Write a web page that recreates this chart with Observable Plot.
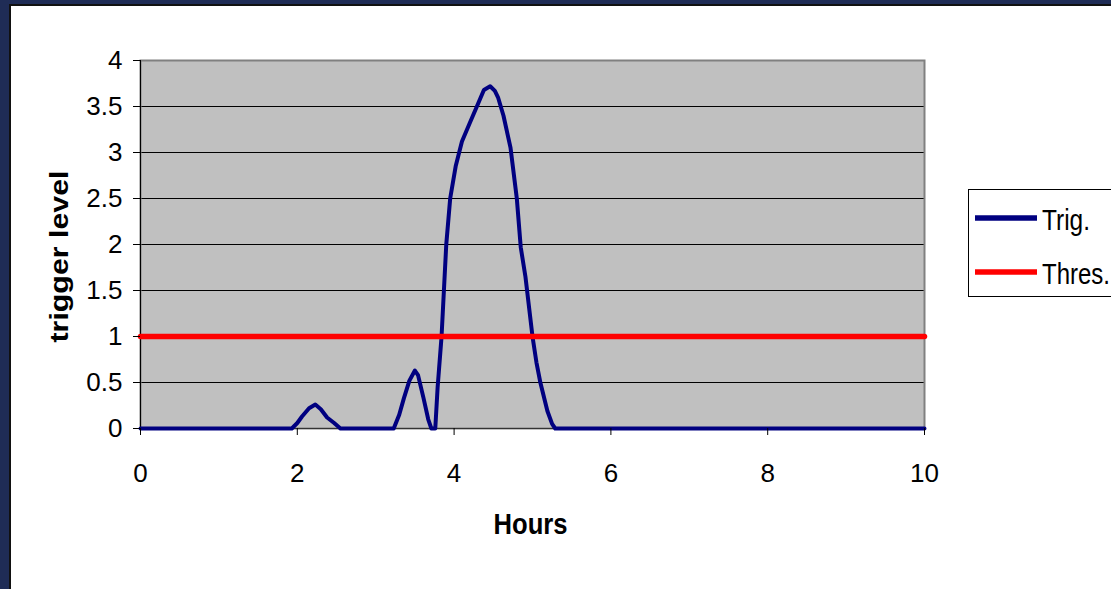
<!DOCTYPE html>
<html>
<head>
<meta charset="utf-8">
<script src="https://cdn.jsdelivr.net/npm/d3@7"></script>
<script src="https://cdn.jsdelivr.net/npm/@observablehq/plot@0.6"></script>
<style>
  html, body { margin: 0; padding: 0; background: white; overflow: hidden; }
  #wrap { position: relative; width: 1111px; height: 589px; overflow: hidden; background: white; }
  #wrap svg.plot { position: absolute; left: 0; top: 0; }
  .bnavy { position: absolute; background: #1f2c56; }
  .bblack { position: absolute; background: #111; }
  #legend { position: absolute; left: 0; top: 0; }
</style>
</head>
<body>
<div id="wrap"></div>
<script>
// ---- data ----
const hours = [0, 1, 1.93, 2.0, 2.06, 2.15, 2.23, 2.3, 2.38, 2.47,
  2.55, 3.1, 3.23, 3.3, 3.36, 3.43, 3.5, 3.54, 3.61, 3.67,
  3.71, 3.76, 3.79, 3.84, 3.9, 3.95, 4.02, 4.1, 4.2, 4.3,
  4.38, 4.46, 4.52, 4.56, 4.63, 4.72, 4.8, 4.85, 4.91, 5.0,
  5.05, 5.1, 5.19, 5.25, 5.29, 6, 8, 10];
const trig = [0, 0, 0, 0.06, 0.13, 0.22, 0.26, 0.21, 0.12, 0.06,
  0, 0, 0, 0.15, 0.33, 0.52, 0.63, 0.58, 0.33, 0.1,
  0, 0, 0.45, 1.0, 2.0, 2.5, 2.85, 3.12, 3.32, 3.52,
  3.68, 3.72, 3.67, 3.6, 3.4, 3.05, 2.5, 1.97, 1.65, 1.0,
  0.72, 0.5, 0.19, 0.05, 0, 0, 0, 0];
const thresHours = [0, 10];
const thresValues = [1, 1];
const xTicks = [0, 2, 4, 6, 8, 10];
const yTicks = [0, 0.5, 1, 1.5, 2, 2.5, 3, 3.5, 4];
const seriesNames = ["Trig.", "Thres."];
const seriesColors = ["#000080", "#ff0000"];
const xTitle = "Hours";
const yTitle = "trigger level";

const trigData = hours.map((h, i) => ({h, v: trig[i]}));
const thresData = thresHours.map((h, i) => ({h, v: thresValues[i]}));
const gridVals = yTicks.filter(d => d > 0 && d < 4);

const FONT = "'Liberation Sans', Arial, Helvetica, sans-serif";

const chart = Plot.plot({
  width: 1111,
  height: 589,
  marginLeft: 140,
  marginRight: 187,
  marginTop: 60,
  marginBottom: 161,
  style: {fontFamily: FONT, background: "transparent", color: "black", overflow: "visible"},
  x: {domain: [0, 10]},
  y: {domain: [0, 4]},
  marks: [
    Plot.frame({fill: "#c0c0c0", stroke: "none"}),
    Plot.ruleY(gridVals, {stroke: "black", strokeWidth: 1}),
    Plot.frame({stroke: "#808080", strokeWidth: 2}),
    Plot.ruleY([0], {stroke: "#333", strokeWidth: 1}),
    Plot.ruleX([0], {stroke: "black", strokeWidth: 1}),
    Plot.line(trigData, {x: "h", y: "v", stroke: seriesColors[0], strokeWidth: 4, curve: "linear", strokeLinejoin: "round"}),
    Plot.line(thresData, {x: "h", y: "v", stroke: seriesColors[1], strokeWidth: 5.5}),
    Plot.axisX({ticks: xTicks, tickSize: 7, tickPadding: 28, fontSize: 26, label: null, tickFormat: d => String(d), stroke: "black"}),
    Plot.axisY({ticks: yTicks, tickSize: 7, tickPadding: 11, fontSize: 26, label: null, tickFormat: d => String(d), stroke: "black"}),
    Plot.text([xTitle], {frameAnchor: "bottom", textAnchor: "middle", dx: -2, dy: 105.7, fontWeight: "bold", fontSize: 30, fill: "black"}),
    Plot.text([yTitle], {frameAnchor: "left", textAnchor: "middle", dx: -81.3, dy: 12, rotate: -90, fontWeight: "bold", fontSize: 26, fill: "black"})
  ]
});
chart.classList.add("plot");
document.getElementById("wrap").appendChild(chart);

// stretch the titles as in the reference
d3.select(chart).selectAll("text").each(function () {
  const t = this.textContent;
  if (t === xTitle) d3.select(this).attr("textLength", 74).attr("lengthAdjust", "spacingAndGlyphs");
  if (t === yTitle) d3.select(this).attr("textLength", 172).attr("lengthAdjust", "spacingAndGlyphs");
});

// outer slide border (navy with a thin dark line)
const wrap = document.getElementById("wrap");
[["bnavy", 0, 0, 1111, 4], ["bnavy", 0, 0, 9, 589], ["bblack", 9, 4, 1102, 1.5], ["bblack", 9, 4, 1.5, 585]].forEach(([c, l, t, w, h]) => {
  const d = document.createElement("div");
  d.className = c;
  Object.assign(d.style, {left: l + "px", top: t + "px", width: w + "px", height: h + "px"});
  wrap.appendChild(d);
});

// legend
const lg = d3.select(wrap).append("svg").attr("id", "legend").attr("width", 1111).attr("height", 589);
lg.append("rect").attr("x", 968.5).attr("y", 189.5).attr("width", 160).attr("height", 107)
  .attr("fill", "white").attr("stroke", "black").attr("stroke-width", 1);
const rowsY = [218, 272];
const textLens = [48, 68];
seriesNames.forEach((name, i) => {
  lg.append("line").attr("x1", 975).attr("x2", 1037).attr("y1", rowsY[i]).attr("y2", rowsY[i])
    .attr("stroke", seriesColors[i]).attr("stroke-width", 5.5);
  lg.append("text").attr("x", 1042).attr("y", rowsY[i] + 11.5)
    .attr("font-family", FONT).attr("font-size", 30).attr("fill", "black")
    .attr("textLength", textLens[i]).attr("lengthAdjust", "spacingAndGlyphs")
    .text(name);
});
</script>
</body>
</html>
